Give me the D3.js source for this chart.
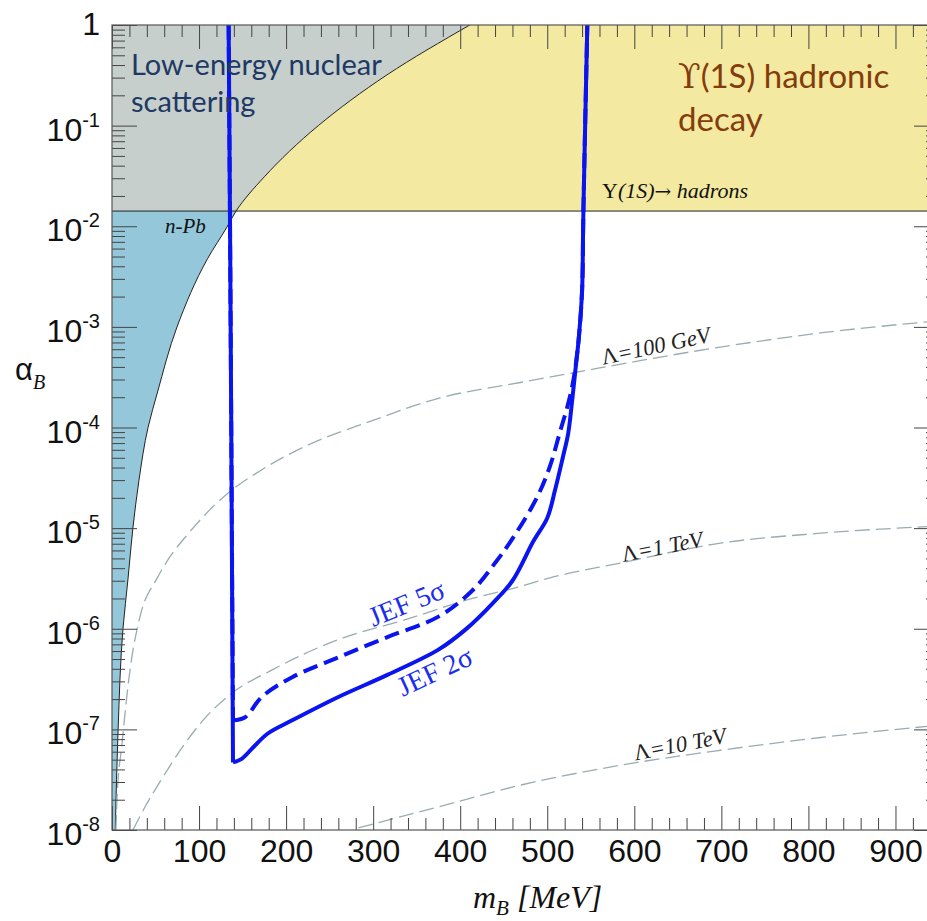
<!DOCTYPE html>
<html>
<head>
<meta charset="utf-8">
<script src="https://cdn.jsdelivr.net/npm/d3@7"></script>
<style>
body { margin: 0; background: #fff; }
svg { display: block; }
.tick line { stroke: #444; stroke-width: 1; }
.domain { display: none; }
</style>
</head>
<body>
<script>
// n-Pb scattering bound (m_B in MeV, alpha_B)
var npbMass  = [3.8, 7, 12.6, 18.5, 24, 31, 41.4, 52, 74.7, 110, 132, 142.5, 175, 237, 316, 411];
var npbAlpha = [1e-8, 1e-7, 1e-6, 3.2e-6, 1e-5, 3e-5, 1e-4, 2.2e-4, 1e-3, 4.8e-3, 9.8e-3, 1.416e-2, 3.1e-2, 0.1, 0.32, 1];

// Upsilon(1S) -> hadrons bound
var upsilonAlpha = 1.416e-2;

// Lambda contours
var lam100Mass  = [4.5, 5.7, 11.5, 20.7, 32, 52, 64, 88, 115, 138, 172, 222, 299, 375, 469, 530, 699, 814, 950];
var lam100Alpha = [1e-8, 2e-8, 7.2e-8, 3.9e-7, 1.3e-6, 3.2e-6, 4.8e-6, 8.9e-6, 1.6e-5, 2.4e-5, 3.8e-5, 6.5e-5, 1.17e-4, 1.95e-4, 2.8e-4, 3.5e-4, 6.3e-4, 8.7e-4, 1.15e-3];
var lam1Mass  = [24, 38, 57, 80.5, 107, 138, 184, 260, 337, 414, 467, 503, 584, 699, 814, 950];
var lam1Alpha = [1e-8, 1.7e-8, 3.2e-8, 6.6e-8, 1.3e-7, 2.3e-7, 3.9e-7, 7.8e-7, 1.23e-6, 2.0e-6, 2.6e-6, 3.2e-6, 4.5e-6, 7.1e-6, 8.9e-6, 1.05e-5];
var lam10Mass  = [283, 375, 470, 584, 699, 814, 950];
var lam10Alpha = [1.05e-8, 1.7e-8, 2.8e-8, 4.4e-8, 6.2e-8, 8.3e-8, 1.1e-7];

// JEF projections
var jef2Mass  = [134, 135.6, 137, 139, 149, 162, 179, 207, 260, 317, 375, 406, 437, 460, 484, 500, 509, 518, 524, 529, 532, 536, 540, 541, 541.5, 546];
var jef2Alpha = [1, 1e-2, 1e-4, 4.7e-8, 5.1e-8, 6.6e-8, 9.1e-8, 1.23e-7, 2.1e-7, 3.5e-7, 6.2e-7, 9.8e-7, 1.78e-6, 3.0e-6, 7.4e-6, 1.26e-5, 2.4e-5, 5.1e-5, 8.7e-5, 2.0e-4, 3.5e-4, 7.4e-4, 2.3e-3, 7.2e-3, 1.4e-2, 1];
var jef5Mass  = [134, 135.6, 137, 139, 153, 172, 207, 260, 317, 375, 414, 440, 461, 488, 503, 515, 523, 530, 536, 540, 541.5, 546];
var jef5Alpha = [1, 1e-2, 1e-4, 1.23e-7, 1.32e-7, 2.1e-7, 3.3e-7, 5.2e-7, 8.3e-7, 1.32e-6, 2.4e-6, 4.5e-6, 8.1e-6, 2.0e-5, 4.1e-5, 9.3e-5, 1.6e-4, 2.95e-4, 7.4e-4, 2.3e-3, 1.4e-2, 1];

// Axis ticks
var xMajor = [0, 100, 200, 300, 400, 500, 600, 700, 800, 900];
var yMajor = [1e-8, 1e-7, 1e-6, 1e-5, 1e-4, 1e-3, 1e-2, 1e-1, 1];
var yExp = [-8, -7, -6, -5, -4, -3, -2, -1, 0];

var width = 927, height = 921;
var pLeft = 112, pRight = 939, pTop = 25, pBottom = 830;

var svg = d3.select("body").append("svg")
    .attr("width", width)
    .attr("height", height);

var x = d3.scaleLinear().domain([0, 950]).range([pLeft, pRight]);
var y = d3.scaleLog().domain([1e-8, 1]).range([pBottom, pTop]);

function pts(ms, as) {
    return ms.map(function(m, i) { return { m: m, a: as[i] }; });
}

svg.append("clipPath").attr("id", "plot")
  .append("rect")
    .attr("x", pLeft).attr("y", pTop)
    .attr("width", pRight - pLeft).attr("height", pBottom - pTop);

var plot = svg.append("g").attr("clip-path", "url(#plot)");

var npb = pts(npbMass, npbAlpha);
var npbLow = npb.filter(function(d) { return d.a <= upsilonAlpha; });
var npbHigh = npb.filter(function(d) { return d.a >= upsilonAlpha; });

// Excluded regions
var areaLeft = d3.area()
    .y(function(d) { return y(d.a); })
    .x0(x(0))
    .x1(function(d) { return x(d.m); })
    .curve(d3.curveMonotoneY);
var areaRight = d3.area()
    .y(function(d) { return y(d.a); })
    .x0(function(d) { return x(d.m); })
    .x1(x(950))
    .curve(d3.curveMonotoneY);

plot.append("path").datum(npbLow).attr("d", areaLeft).attr("fill", "#94c7da");
plot.append("path").datum(npbHigh).attr("d", areaLeft).attr("fill", "#c6cfcb");
plot.append("path").datum(npbHigh).attr("d", areaRight).attr("fill", "#f3e9a0");

plot.append("path").datum(npb)
    .attr("d", d3.line().x(function(d) { return x(d.m); }).y(function(d) { return y(d.a); }).curve(d3.curveMonotoneY))
    .attr("fill", "none").attr("stroke", "#222").attr("stroke-width", 1);

plot.append("line")
    .attr("x1", x(0)).attr("x2", x(950))
    .attr("y1", y(upsilonAlpha)).attr("y2", y(upsilonAlpha))
    .attr("stroke", "#222").attr("stroke-width", 1);

// Lambda contours
var smooth = d3.line()
    .x(function(d) { return x(d.m); })
    .y(function(d) { return y(d.a); })
    .curve(d3.curveMonotoneX);

[[lam100Mass, lam100Alpha], [lam1Mass, lam1Alpha], [lam10Mass, lam10Alpha]].forEach(function(c) {
    plot.append("path").datum(pts(c[0], c[1]))
        .attr("d", smooth)
        .attr("fill", "none")
        .attr("stroke", "#9aacb0")
        .attr("stroke-width", 1.3)
        .attr("stroke-dasharray", "15,6");
});

// JEF curves: straight drop on the left, smooth curve from the lowest point on
var dropLine = d3.line()
    .x(function(d) { return x(d.m); })
    .y(function(d) { return y(d.a); });
var riseLine = d3.line()
    .x(function(d) { return x(d.m); })
    .y(function(d) { return y(d.a); })
    .curve(d3.curveCatmullRom.alpha(0.5));

function jefCurve(ms, as, dash) {
    var data = pts(ms, as);
    var k = d3.minIndex(data, function(d) { return d.a; });
    var g = plot.append("g")
        .attr("fill", "none").attr("stroke", "#0a14f0").attr("stroke-width", 4)
        .attr("stroke-dasharray", dash);
    g.append("path").datum(data.slice(0, k + 1)).attr("d", dropLine);
    g.append("path").datum(data.slice(k)).attr("d", riseLine);
}
jefCurve(jef5Mass, jef5Alpha, "15,7");
jefCurve(jef2Mass, jef2Alpha, null);

// Annotations
var big = svg.append("g").attr("font-family", "Lato, 'Open Sans', sans-serif");
big.append("text").attr("x", 131).attr("y", 75).attr("font-size", 29).attr("fill", "#203864").text("Low-energy nuclear");
big.append("text").attr("x", 131).attr("y", 112).attr("font-size", 29).attr("fill", "#203864").text("scattering");
var ups = big.append("text").attr("x", 678).attr("y", 88).attr("font-size", 33).attr("fill", "#843c0c");
ups.append("tspan").attr("font-family", "'DejaVu Serif'").text("ϒ");
ups.append("tspan").text("(1S) hadronic");
big.append("text").attr("x", 678).attr("y", 131).attr("font-size", 33).attr("fill", "#843c0c").text("decay");

var serif = "'Liberation Serif', 'Times New Roman', serif";

var ul = svg.append("text").attr("x", 602).attr("y", 198)
    .attr("font-family", serif).attr("font-size", 22).attr("fill", "#111");
ul.append("tspan").text("Υ");
ul.append("tspan").attr("font-style", "italic").text("(1S)");
ul.append("tspan").attr("font-family", "'DejaVu Serif'").attr("font-size", 20).text("→");
ul.append("tspan").attr("font-style", "italic").text(" hadrons");

svg.append("text").attr("x", 165).attr("y", 233)
    .attr("font-family", serif).attr("font-size", 21).attr("font-style", "italic")
    .attr("fill", "#111").text("n-Pb");

function lamLabel(m, a, angle, txt) {
    var t = svg.append("text")
        .attr("transform", "translate(" + x(m) + "," + y(a) + ") rotate(" + angle + ")")
        .attr("font-family", serif).attr("font-size", 22.5).attr("fill", "#222");
    t.append("tspan").text("Λ");
    t.append("tspan").attr("font-style", "italic").text(txt);
}
lamLabel(564, 4.2e-4, -12, "=100 GeV");
lamLabel(587, 4.6e-6, -11, "=1 TeV");
lamLabel(601, 4.9e-8, -11, "=10 TeV");

function jefLabel(m, a, angle, txt) {
    svg.append("text")
        .attr("transform", "translate(" + x(m) + "," + y(a) + ") rotate(" + angle + ")")
        .attr("font-family", serif).attr("font-size", 28).attr("fill", "#1a2cf0")
        .text(txt);
}
jefLabel(300, 1.04e-6, -22, "JEF 5σ");
jefLabel(334, 2.1e-7, -25, "JEF 2σ");

// Axes
var xMinor = d3.range(0, 951, 20).filter(function(v) { return v % 100 !== 0; });
var yMinor = [];
yExp.slice(0, 8).forEach(function(e) {
    for (var k = 2; k <= 9; k++) yMinor.push(k * Math.pow(10, e));
});

svg.append("g").attr("transform", "translate(0," + pBottom + ")")
    .call(d3.axisBottom(x).tickValues(xMajor).tickSize(-24).tickPadding(9))
    .call(function(g) {
        g.selectAll("text").attr("font-family", "'Liberation Sans', Arial, sans-serif")
            .attr("font-size", 32).attr("fill", "#111");
    });
svg.append("g").attr("transform", "translate(0," + pBottom + ")")
    .call(d3.axisBottom(x).tickValues(xMinor).tickSize(-12).tickFormat(""));
svg.append("g").attr("transform", "translate(0," + pTop + ")")
    .call(d3.axisTop(x).tickValues(xMajor).tickSize(-24).tickFormat(""));
svg.append("g").attr("transform", "translate(0," + pTop + ")")
    .call(d3.axisTop(x).tickValues(xMinor).tickSize(-12).tickFormat(""));

svg.append("g").attr("transform", "translate(" + pLeft + ",0)")
    .call(d3.axisLeft(y).tickValues(yMajor).tickSize(-25).tickFormat(""));
svg.append("g").attr("transform", "translate(" + pLeft + ",0)")
    .call(d3.axisLeft(y).tickValues(yMinor).tickSize(-13).tickFormat(""));
svg.append("g").attr("transform", "translate(" + pRight + ",0)")
    .call(d3.axisRight(y).tickValues(yMajor).tickSize(-25).tickFormat(""));
svg.append("g").attr("transform", "translate(" + pRight + ",0)")
    .call(d3.axisRight(y).tickValues(yMinor).tickSize(-13).tickFormat(""));

svg.append("rect")
    .attr("x", pLeft).attr("y", pTop)
    .attr("width", pRight - pLeft).attr("height", pBottom - pTop)
    .attr("fill", "none").attr("stroke", "#555").attr("stroke-width", 1.2);

// Y tick labels with superscripts
var yl = svg.append("g").attr("font-family", "'Liberation Sans', Arial, sans-serif").attr("fill", "#111");
yMajor.forEach(function(v, i) {
    var e = yExp[i];
    if (e === 0) {
        yl.append("text").attr("x", 100).attr("y", y(v) + 10)
            .attr("text-anchor", "end").attr("font-size", 32).text("1");
    } else {
        var t = yl.append("text").attr("x", 100).attr("y", y(v) + 15)
            .attr("text-anchor", "end").attr("font-size", 32);
        t.append("tspan").text("10");
        t.append("tspan").attr("font-size", 20).attr("dy", -14).text(String(e));
    }
});

// Axis titles
var xt = svg.append("text").attr("x", 473).attr("y", 908)
    .attr("font-family", serif).attr("font-size", 32).attr("font-style", "italic").attr("fill", "#111");
xt.append("tspan").text("m");
xt.append("tspan").attr("font-size", 21).attr("dy", 7).text("B");
xt.append("tspan").attr("dy", -7).text(" [MeV]");

var yt = svg.append("text").attr("x", 15).attr("y", 380).attr("fill", "#111");
yt.append("tspan").attr("font-family", "'Liberation Sans', Arial, sans-serif").attr("font-size", 31).text("α");
yt.append("tspan").attr("font-family", serif).attr("font-style", "italic")
    .attr("font-size", 20).attr("dy", 9).text("B");
</script>
</body>
</html>
